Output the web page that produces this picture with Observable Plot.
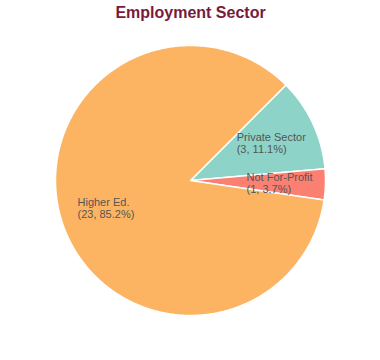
<!DOCTYPE html>
<html>
<head>
<meta charset="utf-8">
<script src="https://cdn.jsdelivr.net/npm/d3@7"></script>
<script src="https://cdn.jsdelivr.net/npm/@observablehq/plot@0.6"></script>
<style>
  html, body { margin: 0; padding: 0; background: #fff; }
  body { width: 380px; height: 360px; overflow: hidden; }
</style>
</head>
<body>
<div id="chart"></div>
<script>
const categories = ["Private Sector", "Not For-Profit", "Higher Ed."];
const counts = [3, 1, 23];
const percentLabels = ["11.1%", "3.7%", "85.2%"];
const colors = ["#8dd3c7", "#fb8072", "#fdb462"];
const title = "Employment Sector";

const W = 380, H = 360, R = 135, CX = 190, CY = 180;
const FONT = "Liberation Sans, Arial, sans-serif";
const pie = d3.pie().sort(null).value(d => d.count).startAngle(Math.PI / 4).endAngle(Math.PI / 4 + 2 * Math.PI);
const rows = categories.map((c, i) => ({cat: c, count: counts[i], pct: percentLabels[i], color: colors[i]}));
const arcs = pie(rows);

// polygon points for each slice in unit coordinates (y up)
const pts = [];
arcs.forEach(a => {
  const n = Math.max(2, Math.ceil((a.endAngle - a.startAngle) / 0.01));
  pts.push({cat: a.data.cat, x: 0, y: 0});
  for (let k = 0; k <= n; k++) {
    const t = a.startAngle + (a.endAngle - a.startAngle) * k / n;
    pts.push({cat: a.data.cat, x: Math.sin(t), y: Math.cos(t)});
  }
  pts.push({cat: a.data.cat, x: 0, y: 0});
});

// measure text so that a left-aligned label block is centred on its anchor
const ctx = document.createElement("canvas").getContext("2d");
ctx.font = `11px ${FONT}`;
const labels = arcs.map(a => {
  const m = (a.startAngle + a.endAngle) / 2;
  const lines = [a.data.cat, `(${a.data.count}, ${a.data.pct})`];
  const w = Math.max(...lines.map(l => ctx.measureText(l).width));
  return {x: 0.66 * Math.sin(m) - (w / 2) / R, y: 0.66 * Math.cos(m), text: lines.join("\n")};
});

const chart = Plot.plot({
  width: W, height: H,
  margin: 0,
  style: {fontFamily: FONT, background: "#fff"},
  x: {domain: [-CX / R, (W - CX) / R], axis: null},
  y: {domain: [-(H - CY) / R, CY / R], axis: null},
  color: {domain: categories, range: colors},
  marks: [
    Plot.line(pts, {x: "x", y: "y", z: "cat", fill: "cat", stroke: "#fff", strokeWidth: 1.5, curve: "linear"}),
    Plot.text(labels, {x: "x", y: "y", text: "text", textAnchor: "start", fontSize: 11, fill: "#555", lineHeight: 1.1}),
    Plot.text([title], {frameAnchor: "top", dy: 6, text: d => d, fontSize: 16, fontWeight: "bold", fill: "#7a1a3a"})
  ]
});
document.getElementById("chart").appendChild(chart);
</script>
</body>
</html>
